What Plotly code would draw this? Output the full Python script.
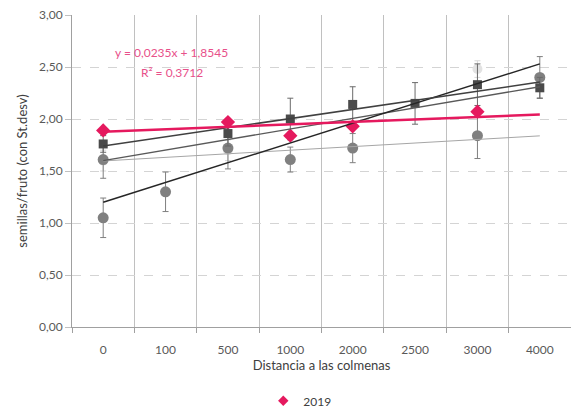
import plotly.graph_objects as go

# ---------------- data ----------------
distances = ["0", "100", "500", "1000", "2000", "2500", "3000", "4000"]

s2019 = [1.89, None, 1.97, 1.84, 1.93, None, 2.07, None]

sq_vals = [1.76, None, 1.86, 2.00, 2.14, 2.15, 2.33, 2.30]
sq_err = [0.08, 0, 0.12, 0.20, 0.17, 0.20, 0.20, 0.10]

c1_vals = [1.61, None, 1.72, 1.61, 1.72, None, 1.84, None]
c1_err = [0.18, 0, 0.20, 0.12, 0.14, 0, 0.22, 0]

c2_vals = [1.05, 1.30, None, None, None, None, None, 2.40]
c2_err = [0.19, 0.19, 0, 0, 0, 0, 0, 0.20]

c3_vals = [1.60, None, 1.70, None, None, None, 2.48, None]
c3_err = [0.10, 0, 0.10, 0, 0, 0, 0.08, 0]

# trendline coefficients (x = category index 1..8)
trend_2019 = (0.0235, 1.8545)
trend_sq = (0.0878, 1.653)
trend_c1 = (0.0345, 1.562)
trend_c2 = (0.19, 1.01)
trend_c3 = (0.1014, 1.499)

eq_text = "y = 0,0235x + 1,8545"
r2_text = "R² = 0,3712"
legend_name = "2019"

PINK = "#E5195E"
FONT = "Lato"

fig = go.Figure()

def trend(coef, color, width):
    m, b = coef
    ys = [b + m * (i + 1) for i in range(len(distances))]
    fig.add_trace(go.Scatter(x=distances, y=ys, mode="lines",
                             line=dict(color=color, width=width),
                             showlegend=False, hoverinfo="skip"))

def markers(vals, err, symbol, color, size, errcolor="#7f7f7f"):
    kw = {}
    if err is not None:
        kw["error_y"] = dict(type="data", array=err, visible=True,
                             color=errcolor, thickness=1, width=3)
    fig.add_trace(go.Scatter(x=distances, y=vals, mode="markers",
                             marker=dict(symbol=symbol, color=color, size=size),
                             showlegend=False, **kw))

# markers
markers(c3_vals, c3_err, "circle", "#e2e2e2", 10, errcolor="#d8d8d8")
markers(c1_vals, c1_err, "circle", "#808080", 11)
markers(c2_vals, c2_err, "circle", "#808080", 11)
markers(sq_vals, sq_err, "square", "#4a4a4a", 9, errcolor="#6a6a6a")
markers(s2019, None, "diamond", PINK, 11)

# legend entry for the 2019 series (smaller symbol, as in the reference legend)
fig.add_trace(go.Scatter(x=[None], y=[None], mode="markers", name=legend_name,
                         marker=dict(symbol="diamond", color=PINK, size=8),
                         showlegend=True))

# trend lines
trend(trend_c1, "#a6a6a6", 1)
trend(trend_c3, "#595959", 1.3)
trend(trend_c2, "#262626", 1.5)
trend(trend_sq, "#404040", 1.5)
trend(trend_2019, PINK, 2.5)

fig.add_annotation(x=0.2, y=2.64, xref="paper", yref="y", text=eq_text,
                   showarrow=False, font=dict(family=FONT, size=12, color="#E8508A"),
                   xanchor="center", yanchor="middle")
fig.add_annotation(x=0.2, y=2.45, xref="paper", yref="y", text=r2_text,
                   showarrow=False, font=dict(family=FONT, size=12, color="#E8508A"),
                   xanchor="center", yanchor="middle")

fig.update_layout(
    width=571, height=409,
    margin=dict(l=72, r=0, t=15, b=82),
    paper_bgcolor="white", plot_bgcolor="white",
    separators=",.",
    font=dict(family=FONT, size=12, color="#595959"),
    legend=dict(orientation="h", x=0.525, xref="container", xanchor="center",
                y=0.02, yref="container", yanchor="middle",
                font=dict(family=FONT, size=12, color="#404040"),
                itemwidth=30, tracegroupgap=0),
    xaxis=dict(type="category", categoryorder="array", categoryarray=distances,
               range=[-0.5, 7.5],
               tickson="boundaries", ticks="outside", ticklen=5, tickcolor="#a0a0a0",
               ticklabelstandoff=12,
               showgrid=True, gridcolor="#c0c0c0", gridwidth=1,
               showline=True, linecolor="#a0a0a0",
               title=dict(text="Distancia a las colmenas", standoff=3,
                          font=dict(family=FONT, size=13, color="#404040")),
               tickfont=dict(family=FONT, size=12, color="#595959")),
    yaxis=dict(range=[0, 3], dtick=0.5, tickformat=".2f",
               ticks="outside", ticklen=6, tickcolor="#c0c0c0",
               showgrid=True, gridcolor="#d4d4d4", griddash="dash",
               showline=True, linecolor="#a0a0a0", zeroline=False,
               title=dict(text="semillas/fruto (con St.desv)", standoff=8,
                          font=dict(family=FONT, size=13, color="#404040")),
               tickfont=dict(family=FONT, size=12, color="#595959")),
)

fig.write_html("out.html")
